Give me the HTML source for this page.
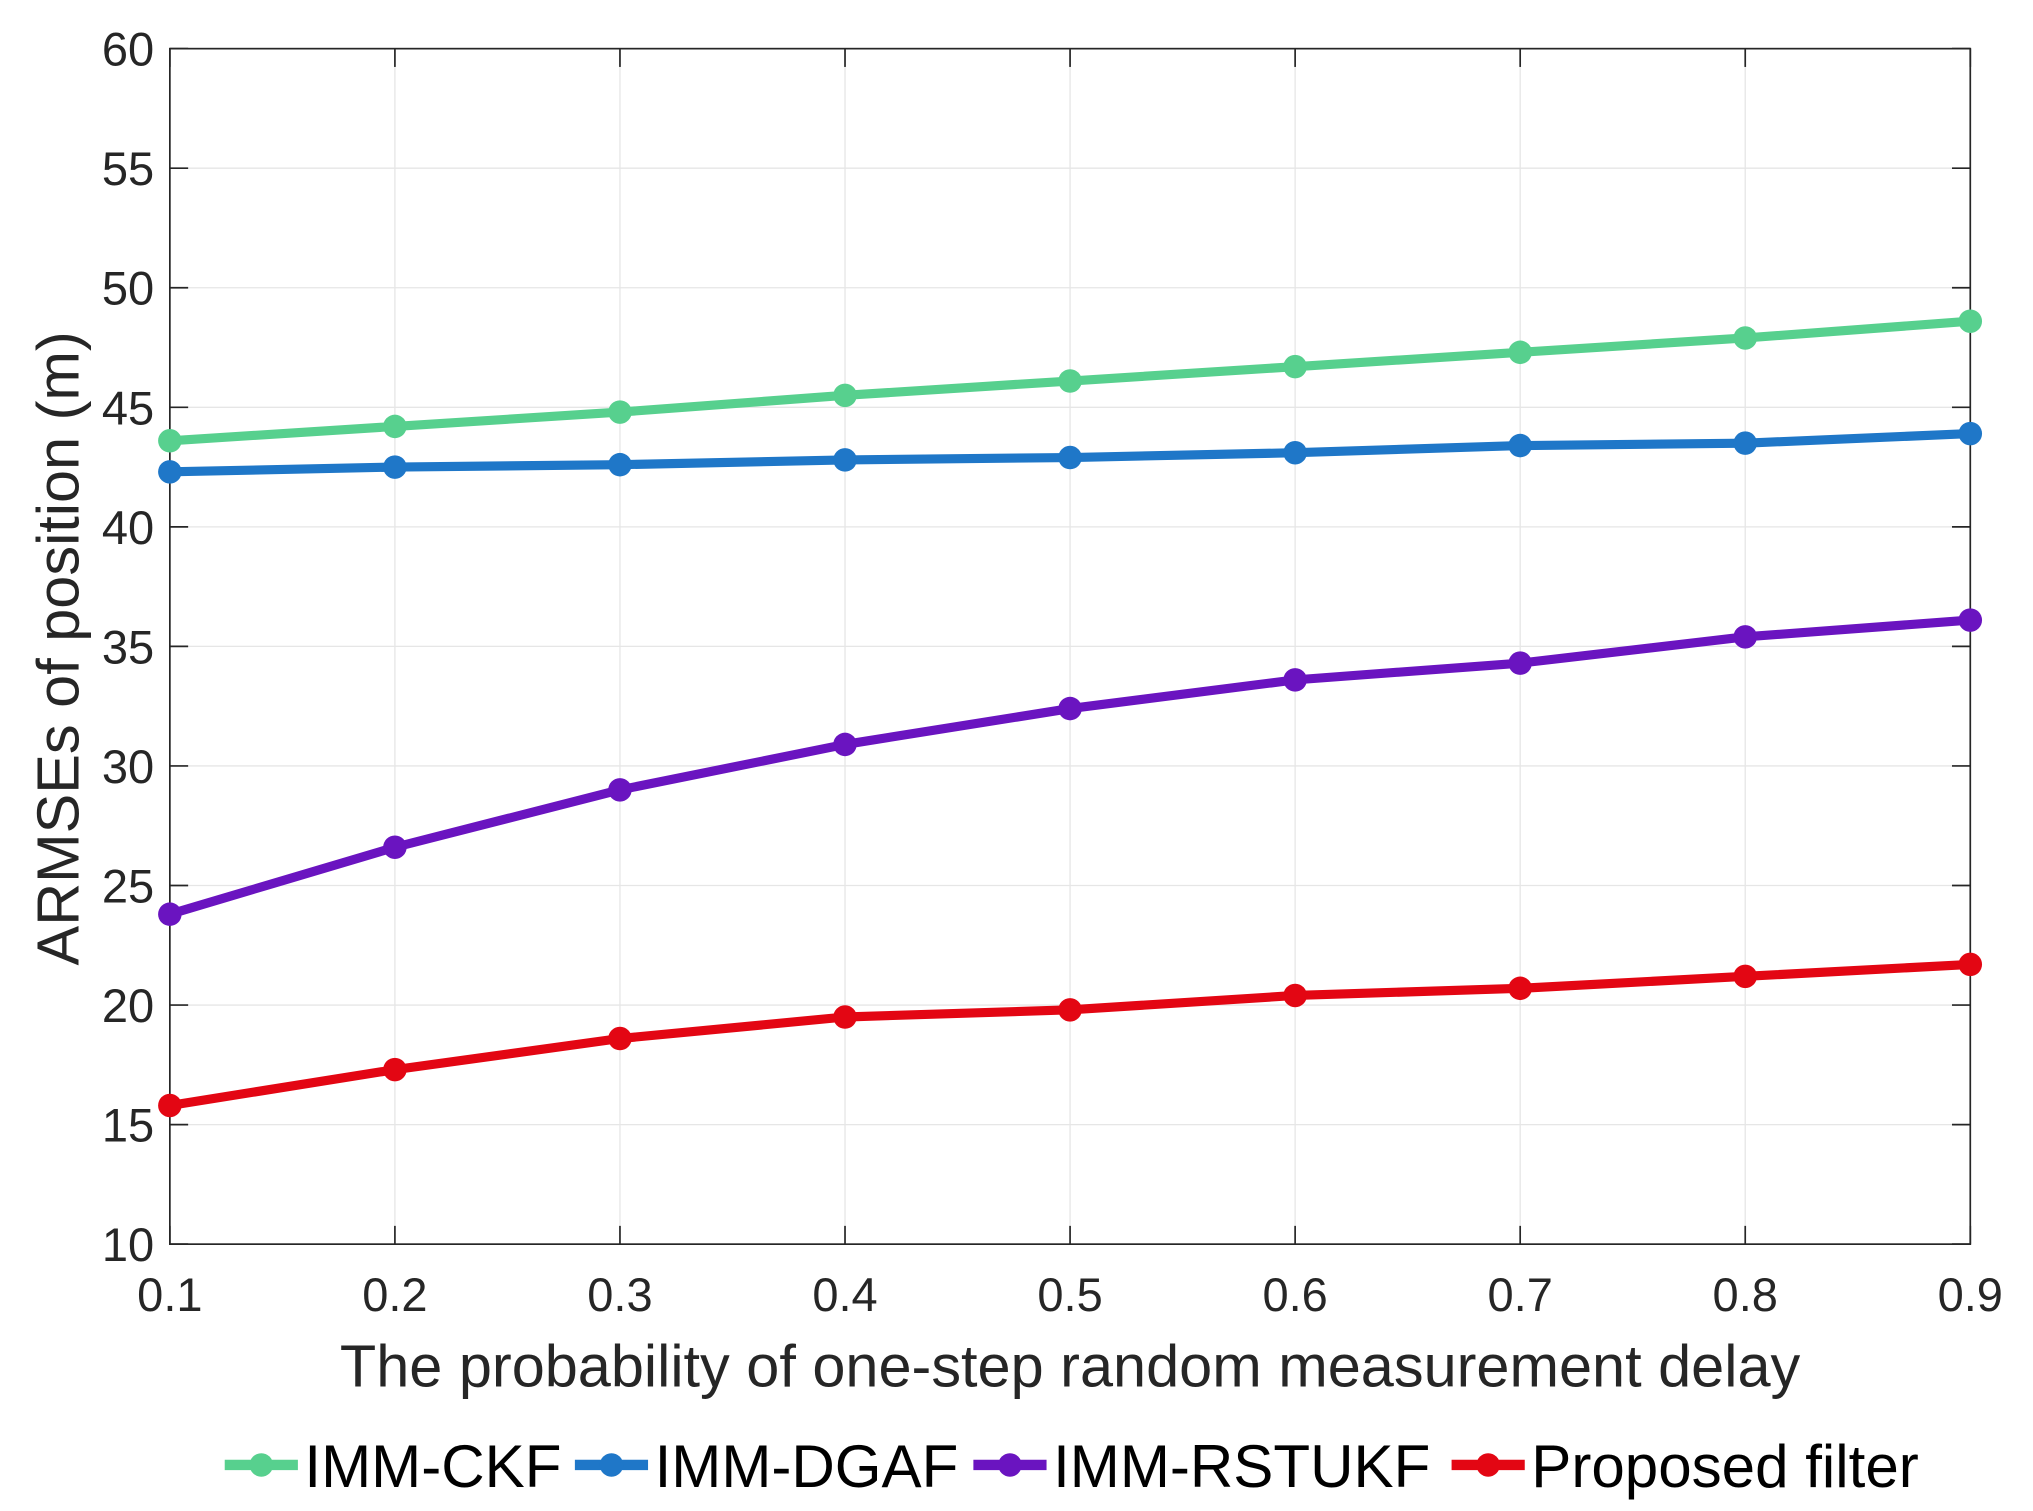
<!DOCTYPE html>
<html><head><meta charset="utf-8"><style>html,body{margin:0;padding:0;background:#fff}svg{display:block}</style></head>
<body>
<svg width="2033" height="1511" viewBox="0 0 1556 1156" xmlns="http://www.w3.org/2000/svg" font-family="Liberation Sans, sans-serif">
<g id="grid"></g>
<g id="ticks"></g>
<rect x="130" y="37" width="1378" height="915" fill="none" stroke="#262626" stroke-width="1.3"/>
<g id="series"></g>
<text x="60" y="496" transform="rotate(-90 60 496)" text-anchor="middle" font-size="45.5" fill="#262626">ARMSEs of position (m)</text>
<text x="819" y="1061" text-anchor="middle" font-size="45.5" fill="#262626">The probability of one-step random measurement delay</text>
<g id="legend"></g>
</svg>
<script>
const xValues=[0.1,0.2,0.3,0.4,0.5,0.6,0.7,0.8,0.9];
const ckf=[43.6,44.2,44.8,45.5,46.1,46.7,47.3,47.9,48.6];
const dgaf=[42.3,42.5,42.6,42.8,42.9,43.1,43.4,43.5,43.9];
const rstukf=[23.8,26.6,29.0,30.9,32.4,33.6,34.3,35.4,36.1];
const proposed=[15.8,17.3,18.6,19.5,19.8,20.4,20.7,21.2,21.7];
const yTicks=[10,15,20,25,30,35,40,45,50,55,60];
const xTicks=[0.1,0.2,0.3,0.4,0.5,0.6,0.7,0.8,0.9];
const seriesNames=["IMM-CKF","IMM-DGAF","IMM-RSTUKF","Proposed filter"];
const seriesColors=["#57d08e","#1f77c8","#6a14c0","#e30613"];
const NS="http://www.w3.org/2000/svg";
const L=130,R=1508,T=37,B=952;
const sx=v=>L+(v-0.1)/(0.8)*(R-L);
const sy=v=>B-(v-10)/50*(B-T);
function mk(t,a,p){const e=document.createElementNS(NS,t);for(const k in a)e.setAttribute(k,a[k]);p.appendChild(e);return e;}
const grid=document.getElementById('grid'),ticks=document.getElementById('ticks');
yTicks.forEach(v=>{const y=sy(v);
 const g=mk('line',{x1:L,x2:R,y1:y,y2:y,stroke:'#e6e6e6','stroke-width':1},grid);
 
 
 mk('line',{x1:L,x2:L+14,y1:y,y2:y,stroke:'#262626','stroke-width':1.3},ticks);
 mk('line',{x1:R,x2:R-14,y1:y,y2:y,stroke:'#262626','stroke-width':1.3},ticks);
 const t=mk('text',{x:L-12,y:y+13,'text-anchor':'end','font-size':36,fill:'#262626'},ticks);t.textContent=v;
 
 
});
xTicks.forEach(v=>{const x=sx(v);
 const g=mk('line',{x1:x,x2:x,y1:T,y2:B,stroke:'#e6e6e6','stroke-width':1},grid);
 
 
 mk('line',{x1:x,x2:x,y1:B,y2:B-14,stroke:'#262626','stroke-width':1.3},ticks);
 mk('line',{x1:x,x2:x,y1:T,y2:T+14,stroke:'#262626','stroke-width':1.3},ticks);
 const t=mk('text',{x:x,y:1003,'text-anchor':'middle','font-size':36,fill:'#262626'},ticks);t.textContent=v.toFixed(1);
 
 
});
const sg=document.getElementById('series');
[ckf,dgaf,rstukf,proposed].forEach((d,i)=>{
 const g=mk('g',{},sg);
 
 
 mk('polyline',{points:d.map((v,j)=>sx(xValues[j])+','+sy(v)).join(' '),fill:'none',stroke:seriesColors[i],'stroke-width':7,'stroke-linejoin':'round'},g);
 d.forEach((v,j)=>{const c=mk('circle',{cx:sx(xValues[j]),cy:sy(v),r:9,fill:seriesColors[i]},g);
  
  });
});
const lg=document.getElementById('legend');
const lx=[172,440,745,1111];
seriesNames.forEach((n,i)=>{
 const g=mk('g',{},lg);
 
 
 mk('line',{x1:lx[i],x2:lx[i]+56,y1:1121,y2:1121,stroke:seriesColors[i],'stroke-width':8},g);
 mk('circle',{cx:lx[i]+28,cy:1121,r:9,fill:seriesColors[i]},g);
 const t=mk('text',{x:lx[i]+61,y:1138,'font-size':46,fill:'#000'},g);t.textContent=n;
});
</script>
</body></html>
